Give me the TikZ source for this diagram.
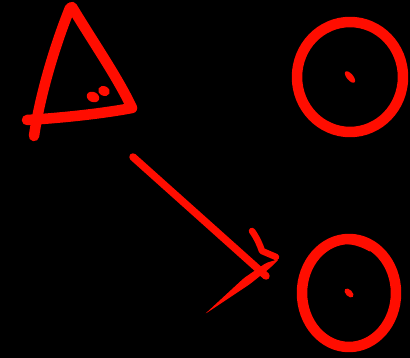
\documentclass[tikz,border=0pt]{standalone}
\usepackage{tikz}
\definecolor{inkred}{HTML}{FF0D00}
\tikzset{pen/.style={draw=inkred, line cap=round, line join=round}}
\newcommand{\ring}[6]{%
  \begin{scope}[shift={(#1,#2)}]
    \draw[pen, line width=10.5pt] (0,0) ellipse[x radius=#3, y radius=#4];
    \fill[inkred, rotate=#5] (0,0) ellipse[x radius=3.2, y radius=#6];
  \end{scope}}

\begin{document}
\begin{tikzpicture}[x=1pt, y=-1pt]
  \fill[black] (0,0) rectangle (410,358);
  \useasboundingbox (0,0) rectangle (410,358);
  % triangle, one pen stroke with the left side running past the base
  \draw[pen, line width=10.5pt]
    (72,7) .. controls (95,45) and (118,78) .. (132,108)
    .. controls (100,114) and (60,118) .. (27,120);
  \draw[pen, line width=10.5pt]
    (34,136) .. controls (40,95) and (55,45) .. (70,8);
  \fill[inkred, rotate around={-25:(93,97)}] (93,97) ellipse[x radius=6.5, y radius=5];
  \fill[inkred, rotate around={-25:(104,91)}] (104,91) ellipse[x radius=6, y radius=4.8];
  % the two circles
  \ring{350}{77}{53}{55}{40}{7}
  \ring{349}{293}{47}{54}{45}{5.5}
  \draw[pen, line width=3pt] (330,243) .. controls (345,240) and (360,244) .. (370,250);
  % arrow
  \coordinate (tail) at (133,157);
  \coordinate (tip) at (266,276);
  \draw[pen, line width=7.5pt] (tail) -- (tip);
  \draw[pen, line width=6.5pt] (252,231) .. controls (257,238) and (260,245) .. (262,251)
    -- (276,257);
  \fill[inkred, rounded corners=2pt] (279,259) -- (266,263) -- (244,278) -- (205,314)
    -- (250,284) -- (270,268) -- cycle;
\end{tikzpicture}
\end{document}
